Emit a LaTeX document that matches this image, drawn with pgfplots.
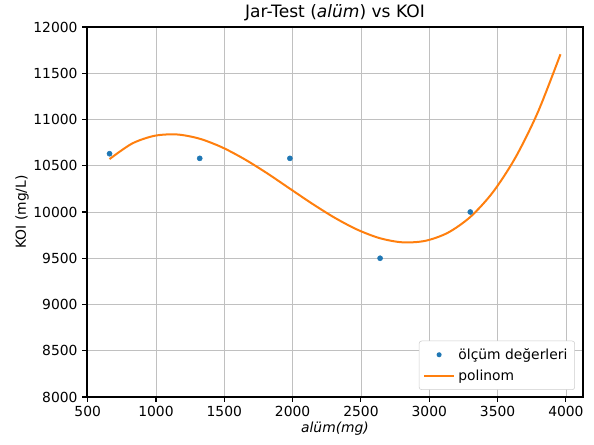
\documentclass[border=0pt]{standalone}
\usepackage{fontspec}
\setmainfont{DejaVu Sans}
\usepackage{pgfplots}
\pgfplotsset{compat=1.18}
\definecolor{mplblue}{HTML}{1F77B4}
\definecolor{mplorange}{HTML}{FF7F0E}
\definecolor{mplgrid}{HTML}{B0B0B0}
\definecolor{legframe}{HTML}{CCCCCC}

\begin{document}
\begin{tikzpicture}
\begin{axis}[
  name=ax,
  scale only axis,
  width=372pt, height=277.5pt,
  xmin=495, xmax=4125,
  ymin=8000, ymax=12000,
  xtick={500,1000,...,4000},
  ytick={8000,8500,...,12000},
  scaled ticks=false,
  /pgf/number format/1000 sep={},
  /pgf/number format/assume math mode=true,
  tick label style={font=\fontsize{10.4}{12}\selectfont},
  tick align=outside,
  tick pos=left,
  major tick length=3.6pt,
  major tick style={black, line width=0.8pt},
  axis line style={black, line width=0.8pt},
  grid=major,
  grid style={mplgrid!80, line width=0.6pt},
  every axis title shift=0pt,
  title={Jar-Test (\textit{alüm}) vs KOI},
  title style={font=\fontsize{12.8}{15}\selectfont,
    at={(axis description cs:0.5,1)}, anchor=center, yshift=10.5pt},
  xlabel={\textit{alüm(mg)}},
  ylabel={KOI (mg/L)},
  xlabel style={font=\fontsize{10.4}{12}\selectfont,
    at={(axis description cs:0.5,0)}, anchor=center, yshift=-23.5pt},
  ylabel style={font=\fontsize{10.4}{12}\selectfont,
    at={(axis description cs:0,0.5)}, anchor=center, yshift=48.75pt},
  legend style={at={(axis description cs:1,0)}, anchor=south east,
    xshift=-6pt, yshift=5.25pt,
    font=\fontsize{10.4}{12}\selectfont, draw=legframe, rounded corners=2pt,
    fill=white, row sep=1.5pt, inner sep=3pt,
    nodes={inner sep=2.5pt}},
  legend cell align=left,
]
  \addplot[only marks, mark=*, mark size=1.9pt, color=mplblue,
    legend image code/.code={
      \fill[mplblue, draw=none] (11.25pt,0pt) circle (1.9pt);
      \path[draw=none] (0pt,0pt) -- (22.5pt,0pt);}]
    coordinates {
      (660,10630) (1320,10580) (1980,10580) (2640,9500) (3300,10000)
    };
  \addlegendentry{ölçüm değerleri}

  \addplot[smooth, color=mplorange, line width=1.5pt,
    legend image code/.code={
      \draw[mplorange, line width=1.5pt] (0pt,0pt) -- (22.5pt,0pt);}]
    coordinates {
      (660,10572) (825,10740) (990,10824) (1155,10838) (1320,10792)
      (1485,10698) (1650,10569) (1815,10417) (1980,10252) (2145,10088)
      (2310,9936) (2475,9808) (2640,9716) (2805,9672) (2970,9688)
      (3135,9775) (3300,9946) (3465,10213) (3630,10587) (3795,11080)
      (3960,11705)
    };
  \addlegendentry{polinom}
\end{axis}
\pgfresetboundingbox
\path ([xshift=-65.25pt, yshift=-36pt]ax.south west)
  rectangle ([xshift=8.25pt, yshift=20.25pt]ax.north east);
\end{tikzpicture}
\end{document}
